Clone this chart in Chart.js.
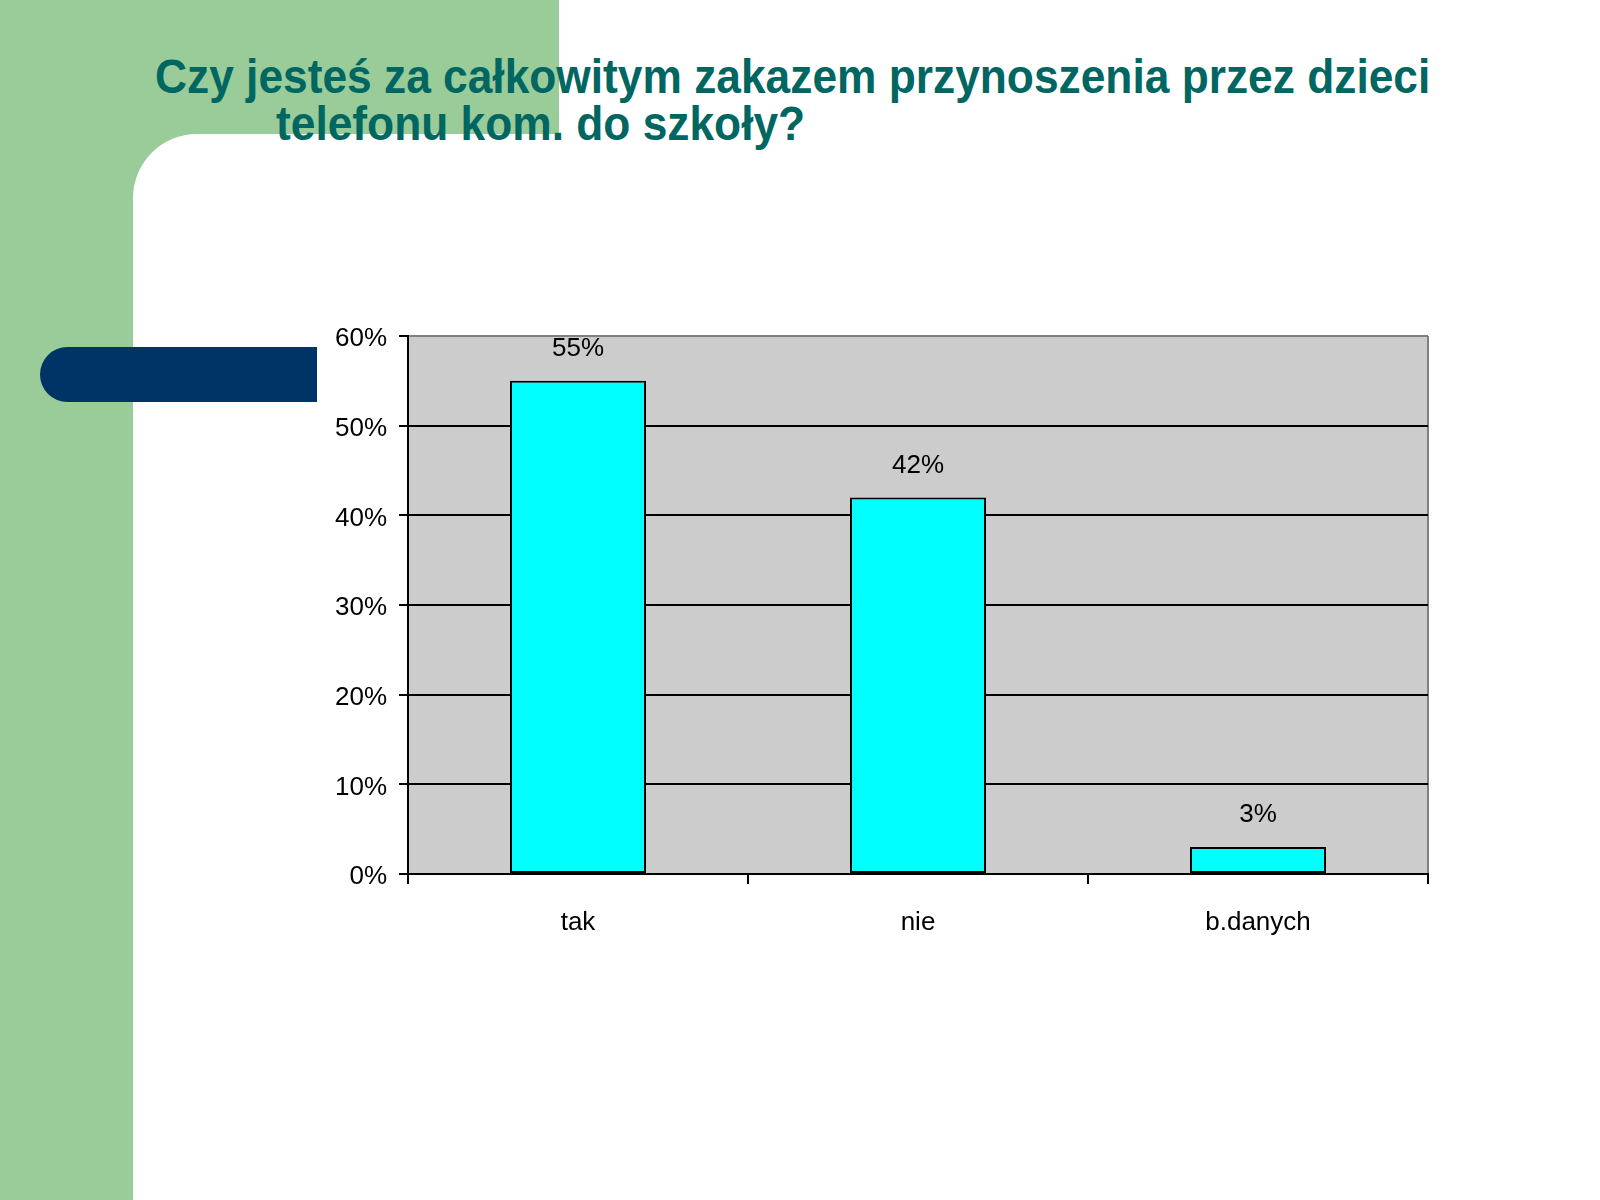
<!DOCTYPE html>
<html>
<head>
<meta charset="utf-8">
<script src="https://cdn.jsdelivr.net/npm/chart.js@4"></script>
<style>
  html, body { margin:0; padding:0; background:#fff; width:1600px; height:1200px; overflow:hidden; }
  #greenTop { position:absolute; left:0; top:0; width:559px; height:220px; background:#99cc99; }
  #greenLeft { position:absolute; left:0; top:0; width:133px; height:1200px; background:#99cc99; }
  #white { position:absolute; left:133px; top:134px; width:1467px; height:1066px; background:#fff; border-top-left-radius:64px; }
  #pill { position:absolute; left:40px; top:347px; width:277px; height:55px; background:#003366; border-radius:28px 0 0 28px; }
  .title { position:absolute; font-family:"Liberation Sans", Arial, sans-serif; font-weight:bold; font-size:44.3px; color:#006661; white-space:nowrap; line-height:1; transform:scaleY(1.08); transform-origin:0 0; }
  #t1 { left:155px; top:53px; }
  #t2 { left:276px; top:100px; }
  #wrap { position:absolute; left:0; top:0; width:1600px; height:1200px; }
</style>
</head>
<body>
<div id="greenTop"></div>
<div id="greenLeft"></div>
<div id="white"></div>
<div id="pill"></div>
<div class="title" id="t1">Czy jesteś za całkowitym zakazem przynoszenia przez dzieci</div>
<div class="title" id="t2">telefonu kom. do szkoły?</div>
<div id="wrap"><canvas id="c" width="1600" height="1200"></canvas></div>
<script>
const categories = ["tak", "nie", "b.danych"];
const values = [55, 42, 3];
const yMin = 0, yMax = 60, yStep = 10;

const FONT = '"Liberation Sans", Arial, sans-serif';

const plotBg = {
  id: 'plotBg',
  beforeDraw(chart) {
    const {ctx, chartArea: a} = chart;
    ctx.save();
    ctx.fillStyle = '#cccccc';
    ctx.fillRect(a.left, a.top, a.right - a.left, a.bottom - a.top);
    ctx.strokeStyle = '#808080';
    ctx.lineWidth = 2;
    ctx.beginPath();
    ctx.moveTo(a.right, a.top);
    ctx.lineTo(a.right, a.bottom);
    ctx.stroke();
    ctx.restore();
  }
};

const valueLabels = {
  id: 'valueLabels',
  afterDatasetsDraw(chart) {
    const {ctx} = chart;
    const meta = chart.getDatasetMeta(0);
    ctx.save();
    ctx.fillStyle = '#000';
    ctx.font = '26px ' + FONT;
    ctx.textAlign = 'center';
    ctx.textBaseline = 'middle';
    meta.data.forEach((bar, i) => {
      ctx.fillText(values[i] + '%', bar.x, bar.y - 32);
    });
    ctx.restore();
  }
};

new Chart(document.getElementById('c'), {
  type: 'bar',
  data: {
    labels: categories,
    datasets: [{
      data: values,
      backgroundColor: '#00ffff',
      borderColor: '#000000',
      borderWidth: 2,
      borderSkipped: false,
      barPercentage: 0.5,
      categoryPercentage: 0.8
    }]
  },
  options: {
    responsive: false,
    animation: false,
    layout: { padding: { left: 0, top: 336, right: 172, bottom: 260 } },
    plugins: { legend: { display: false }, tooltip: { enabled: false }, title: { display: false } },
    scales: {
      x: {
        grid: { offset: true, drawOnChartArea: false, color: '#000', tickColor: '#000', tickLength: 10, lineWidth: 2 },
        border: { color: '#000', width: 2 },
        ticks: { color: '#000', font: { family: FONT, size: 26 }, padding: 23 },
        afterFit(scale) { scale.height = 66; }
      },
      y: {
        min: yMin, max: yMax,
        grid: {
          color: (c) => c.tick && c.tick.value === yMax ? '#808080' : '#000',
          tickColor: '#000',
          tickLength: 9,
          lineWidth: 2
        },
        border: { color: '#000', width: 2 },
        ticks: { stepSize: yStep, color: '#000', font: { family: FONT, size: 26 }, padding: 12, labelOffset: 3,
          callback: (v) => v + '%' },
        afterFit(scale) { scale.width = 408; }
      }
    }
  },
  plugins: [plotBg, valueLabels]
});
</script>
</body>
</html>
